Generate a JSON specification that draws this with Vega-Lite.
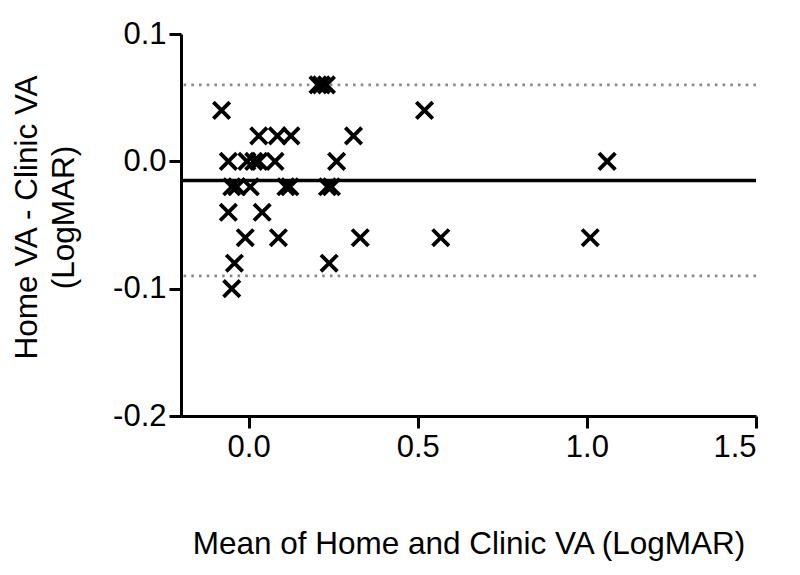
{
  "$schema": "https://vega.github.io/schema/vega-lite/v6.json",
  "width": 575,
  "height": 382,
  "autosize": {"type": "none"},
  "padding": {"left": 181, "top": 34, "right": 44, "bottom": 159},
  "background": "white",
  "config": {
    "view": {"stroke": null},
    "font": "Liberation Sans",
    "axis": {
      "grid": false,
      "domainColor": "black",
      "domainWidth": 3,
      "tickColor": "black",
      "tickWidth": 3,
      "tickSize": 12,
      "labelFont": "Liberation Sans",
      "labelFontSize": 31,
      "labelColor": "black",
      "titleFont": "Liberation Sans",
      "titleFontSize": 31.5,
      "titleFontWeight": "normal",
      "titleColor": "black"
    }
  },
  "datasets": {
    "points": [
      {"mean": 0.205, "diff": 0.06}, {"mean": 0.215, "diff": 0.06}, {"mean": 0.23, "diff": 0.06},
      {"mean": -0.08, "diff": 0.04}, {"mean": 0.52, "diff": 0.04},
      {"mean": 0.03, "diff": 0.02}, {"mean": 0.085, "diff": 0.02}, {"mean": 0.125, "diff": 0.02}, {"mean": 0.31, "diff": 0.02},
      {"mean": -0.06, "diff": 0.0}, {"mean": -0.005, "diff": 0.0}, {"mean": 0.015, "diff": 0.0}, {"mean": 0.03, "diff": 0.0}, {"mean": 0.078, "diff": 0.0}, {"mean": 0.26, "diff": 0.0}, {"mean": 1.06, "diff": 0.0},
      {"mean": -0.05, "diff": -0.02}, {"mean": -0.035, "diff": -0.02}, {"mean": 0.005, "diff": -0.02}, {"mean": 0.11, "diff": -0.02}, {"mean": 0.122, "diff": -0.02}, {"mean": 0.233, "diff": -0.02}, {"mean": 0.245, "diff": -0.02},
      {"mean": -0.06, "diff": -0.04}, {"mean": 0.04, "diff": -0.04},
      {"mean": -0.01, "diff": -0.06}, {"mean": 0.088, "diff": -0.06}, {"mean": 0.33, "diff": -0.06}, {"mean": 0.568, "diff": -0.06}, {"mean": 1.01, "diff": -0.06},
      {"mean": -0.042, "diff": -0.08}, {"mean": 0.238, "diff": -0.08},
      {"mean": -0.05, "diff": -0.1}
    ],
    "bias": [{"value": -0.015}],
    "limits": [{"value": 0.06}, {"value": -0.09}]
  },
  "layer": [
    {
      "data": {"name": "limits"},
      "mark": {"type": "rule", "color": "#8a8a8a", "strokeWidth": 2.8, "strokeDash": [2.6, 5.1]},
      "encoding": {
        "y": {"field": "value", "type": "quantitative", "scale": {"domain": [-0.2, 0.1]}}
      }
    },
    {
      "data": {"name": "bias"},
      "mark": {"type": "rule", "color": "black", "strokeWidth": 3.5},
      "encoding": {
        "y": {"field": "value", "type": "quantitative"}
      }
    },
    {
      "data": {"name": "points"},
      "mark": {"type": "point", "shape": "M-1,-1L1,1M1,-1L-1,1", "filled": false, "stroke": "black", "strokeWidth": 3.8, "size": 270, "opacity": 1},
      "encoding": {
        "x": {
          "field": "mean", "type": "quantitative",
          "scale": {"domain": [-0.2, 1.5], "nice": false, "zero": false},
          "axis": {
            "values": [0, 0.5, 1.0, 1.5],
            "format": ".1f",
            "title": "Mean of Home and Clinic VA (LogMAR)",
            "titlePadding": 66,
            "labelPadding": 4
          }
        },
        "y": {
          "field": "diff", "type": "quantitative",
          "scale": {"domain": [-0.2, 0.1], "nice": false, "zero": false},
          "axis": {
            "values": [0.1, 0.0, -0.1, -0.2],
            "labelExpr": "replace(format(datum.value, '.1f'), '\u2212', '-')",
            "title": ["Home VA - Clinic VA", "(LogMAR)"],
            "titlePadding": 32,
            "titleLineHeight": 37,
            "titleY": 183,
            "labelPadding": 3
          }
        }
      }
    }
  ]
}
